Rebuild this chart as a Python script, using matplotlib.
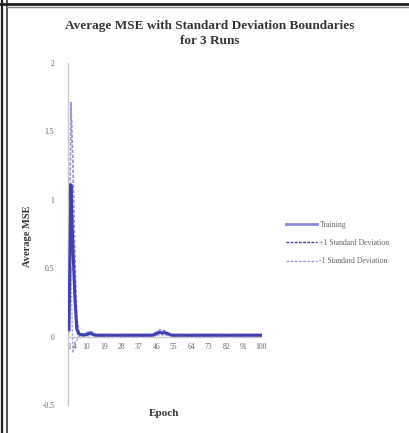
import matplotlib
matplotlib.use("Agg")
import matplotlib.pyplot as plt
from matplotlib.lines import Line2D
import numpy as np

epochs = list(range(1, 101))
training = [0.05, 1.11, 0.66, 0.30, 0.06, 0.02, 0.015, 0.012, 0.012, 0.015,
            0.02, 0.025, 0.02, 0.012] + [0.01] * 30 + \
           [0.015, 0.02, 0.028, 0.03, 0.025, 0.03, 0.025, 0.02, 0.015] + [0.01] * 47
plus_sd = [0.08, 1.71, 1.30, 0.62, 0.15, 0.04, 0.025, 0.02, 0.02, 0.025,
           0.035, 0.04, 0.03, 0.02] + [0.015] * 30 + \
          [0.025, 0.035, 0.045, 0.05, 0.04, 0.045, 0.04, 0.03, 0.02] + [0.015] * 47
minus_sd = [0.02, 0.51, -0.12, -0.04, -0.03, 0.0, 0.005, 0.005, 0.005, 0.005,
            0.005, 0.01, 0.01, 0.005] + [0.005] * 30 + \
           [0.005, 0.005, 0.01, 0.01, 0.01, 0.015, 0.01, 0.01, 0.01] + [0.005] * 47
xtick_labels = [1, 4, 10, 19, 28, 37, 46, 55, 64, 73, 82, 91, 100]
yticks = [-0.5, 0, 0.5, 1, 1.5, 2]

W, H = 409, 433
fig = plt.figure(figsize=(W / 100, H / 100), dpi=100)
fig.patch.set_facecolor("white")
SERIF = "Liberation Serif"

# outer frame lines
fig.add_artist(Line2D([1.5 / W, 1.5 / W], [0, 1], color="#222222", lw=1.6))
fig.add_artist(Line2D([6.5 / W, 6.5 / W], [0, 1], color="#555555", lw=1.4))
fig.add_artist(Line2D([0, 1], [1 - 3.5 / H, 1 - 3.5 / H], color="#222222", lw=2.0))
fig.add_artist(Line2D([6.5 / W, 1], [1 - 6.5 / H, 1 - 6.5 / H], color="#888888", lw=1.0))

x0, x1 = 68, 262
y_top, y_bot = 63, 405
ax = fig.add_axes([x0 / W, 1 - y_bot / H, (x1 - x0) / W, (y_bot - y_top) / H])
ax.set_facecolor("white")
ax.set_xlim(0.5, 100.5)
ax.set_ylim(-0.5, 2)

ax.plot(epochs, minus_sd, color="#a8a8e8", lw=1.0, ls=(0, (2, 1)), zorder=2)
ax.plot(epochs, plus_sd, color="#9090dc", lw=1.2, ls=(0, (2, 1)), zorder=2)
ax.plot(epochs, training, color="#4040b0", lw=2.2, zorder=3)

for s in ["top", "right", "bottom"]:
    ax.spines[s].set_visible(False)
ax.spines["left"].set_color("#c8c8c8")
ax.spines["left"].set_linewidth(1.0)
ax.axhline(0, color="#c8c8c8", lw=1.0, zorder=1)

ax.set_yticks(yticks)
ax.set_yticklabels(["-0.5", "0", "0.5", "1", "1.5", "2"])
ax.tick_params(axis="y", length=0, labelsize=5.5, labelcolor="#666666", pad=10)
ax.set_xticks([])
for lab in xtick_labels:
    ax.text(lab, -0.05, str(lab), ha="center", va="top", fontsize=5.5,
            color="#666666", family=SERIF)
for t in ax.get_yticklabels():
    t.set_family(SERIF)

fig.text(210 / W, 1 - 26 / H, "Average MSE with Standard Deviation Boundaries",
         ha="center", va="center", fontsize=9.5, fontweight="bold",
         family=SERIF, color="#333333")
fig.text(210 / W, 1 - 41 / H, "for 3 Runs", ha="center", va="center",
         fontsize=9.5, fontweight="bold", family=SERIF, color="#333333")
fig.text(27 / W, 1 - 236 / H, "Average MSE", rotation=90, ha="center", va="center",
         fontsize=7.5, fontweight="bold", family=SERIF, color="#333333")
fig.text(164 / W, 1 - 413 / H, "Epoch", ha="center", va="center",
         fontsize=8, fontweight="bold", family=SERIF, color="#333333")

handles = [
    Line2D([], [], color="#8a8ad8", lw=2.0),
    Line2D([], [], color="#3a3a9a", lw=1.0, ls=(0, (2, 1))),
    Line2D([], [], color="#9a9ae0", lw=1.0, ls=(0, (2, 1))),
]
labels = ["Training", "+1 Standard Deviation", "-1 Standard Deviation"]
fig.legend(handles, labels, loc="upper left", bbox_to_anchor=(279 / W, 1 - 214 / H),
           frameon=False, handlelength=4.0, handletextpad=0.3,
           labelspacing=1.3, labelcolor="#666666", prop={"family": SERIF, "size": 5.6})

fig.savefig("out.png", dpi=100, facecolor="white")
